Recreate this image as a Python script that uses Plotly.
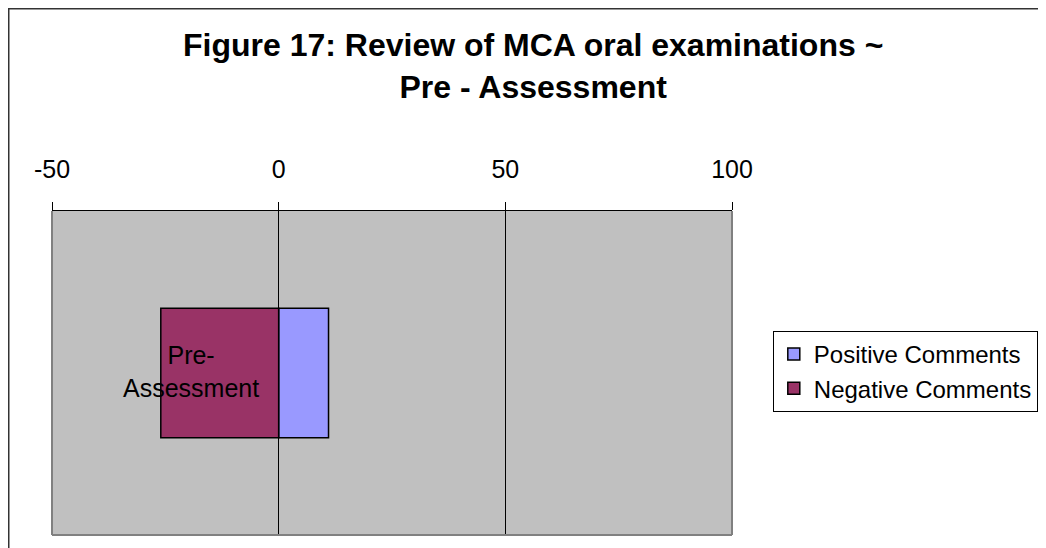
import plotly.graph_objects as go

# data
categories = ['Pre-Assessment']
positive = [11]
negative = [-26]
x_ticks = [-50, 0, 50, 100]
x_tick_text = ['-50', '0', '50', '100']

FONT = 'Liberation Sans, Arial, sans-serif'

fig = go.Figure()
fig.add_trace(go.Bar(
    y=categories, x=positive, orientation='h', name='Positive Comments',
    marker=dict(color='#9999FF', line=dict(color='black', width=1.5)),
))
fig.add_trace(go.Bar(
    y=categories, x=negative, orientation='h', name='Negative Comments',
    marker=dict(color='#993366', line=dict(color='black', width=1.5)),
))

# category label, centred lines, left of the zero line
fig.add_annotation(
    x=0, y=categories[0], xref='x', yref='y',
    text='Pre-<br>Assessment', showarrow=False,
    xanchor='right', align='center', xshift=-18, yshift=2,
    font=dict(family=FONT, size=25, color='black'),
)

# title
fig.add_annotation(
    x=0.7074, y=1.575, xref='paper', yref='paper',
    text='<b>Figure 17: Review of MCA oral examinations ~<br>Pre - Assessment</b>',
    showarrow=False, xanchor='center', yanchor='top', align='center',
    font=dict(family=FONT, size=32, color='black'),
)

# grey plot border (left, bottom, right)
for x0, y0, x1, y1 in [(0, 0, 0, 1), (0, 0, 1, 0), (1, 0, 1, 1)]:
    fig.add_shape(type='line', xref='x domain', yref='y domain',
                  x0=x0, y0=y0, x1=x1, y1=y1,
                  line=dict(color='#808080', width=2), layer='above')

# outer chart frame
fig.add_shape(type='rect', xref='paper', yref='paper',
              x0=-0.0636, y0=-0.08, x1=1.48, y1=1.6245,
              line=dict(color='#333333', width=1.5), layer='below')

fig.update_layout(
    width=1046, height=548,
    margin=dict(l=44, r=322, t=203, b=21, autoexpand=False),
    paper_bgcolor='white', plot_bgcolor='#C0C0C0',
    barmode='relative', bargap=0.6,
    font=dict(family=FONT, size=25, color='black'),
    legend=dict(
        x=1.060, y=0.63, xanchor='left', yanchor='top',
        bordercolor='black', borderwidth=1, bgcolor='white',
        traceorder='normal', font=dict(size=24),
        itemwidth=30,
    ),
    xaxis=dict(
        side='top', range=[-50, 100], tickvals=x_ticks, ticktext=x_tick_text,
        showgrid=True, gridcolor='black', gridwidth=1,
        zeroline=True, zerolinecolor='black', zerolinewidth=1,
        showline=True, linecolor='black', linewidth=1,
        ticks='outside', ticklen=8, tickcolor='black',
        ticklabelstandoff=14,
        fixedrange=True,
    ),
    yaxis=dict(
        type='category', showticklabels=False, showgrid=False,
        zeroline=False, fixedrange=True,
    ),
)

fig.write_html('out.html')
